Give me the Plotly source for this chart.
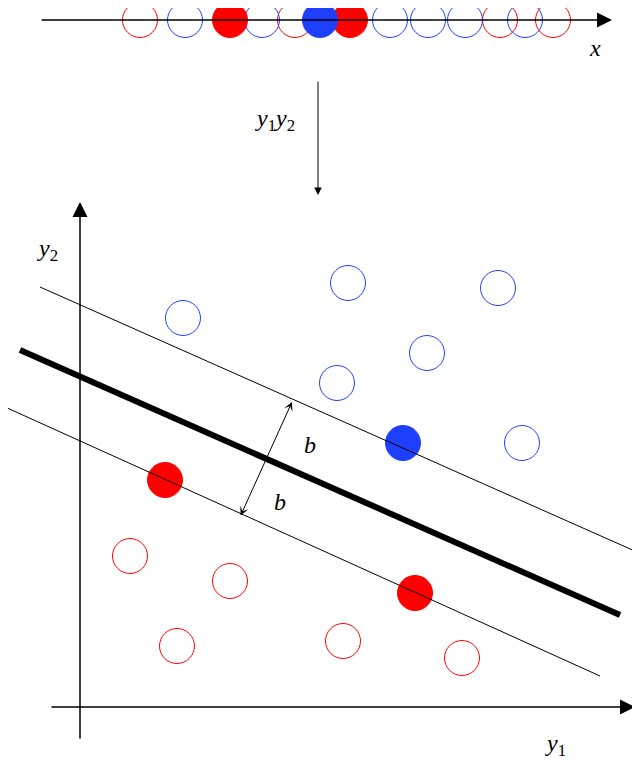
import plotly.graph_objects as go

# top row: 1-D points on x axis (pixel-like coords)
top_x = [140, 185, 262, 295, 390, 428, 465, 500, 525, 553, 230, 320, 350]
top_kind = ["ro", "bo", "bo", "ro", "bo", "bo", "bo", "ro", "bo", "ro", "rf", "bf", "rf"]
top_y = 20

# mapped points in (y1, y2) plane
pts_x = [348, 498, 183, 427, 337, 522, 403, 165, 415, 130, 230, 177, 343, 462]
pts_y = [283, 288, 318, 353, 383, 443, 443, 480, 593, 556, 581, 646, 641, 658]
pts_kind = ["bo", "bo", "bo", "bo", "bo", "bo", "bf", "rf", "rf", "ro", "ro", "ro", "ro", "ro"]

# separating lines: (x0, y0, x1, y1, width)
lines = [(20, 350, 620, 615, 6), (40, 287, 637, 552, 1), (5, 407, 600, 676, 1)]

RED, BLUE = "#ff0000", "#1f3fff"

fig = go.Figure()


def add_points(xs, ys, kinds):
    for k in ["ro", "bo", "rf", "bf"]:
        sel = [i for i, kk in enumerate(kinds) if kk == k]
        c = RED if k[0] == "r" else BLUE
        filled = k[1] == "f"
        fig.add_trace(go.Scatter(
            x=[xs[i] for i in sel], y=[ys[i] for i in sel], mode="markers",
            marker=dict(size=35, color=c if filled else "rgba(0,0,0,0)",
                        line=dict(color=c, width=1)),
            showlegend=False, hoverinfo="skip"))


add_points(top_x, [top_y] * len(top_x), top_kind)
add_points(pts_x, pts_y, pts_kind)

for x0, y0, x1, y1, w in lines:
    fig.add_shape(type="line", x0=x0, y0=y0, x1=x1, y1=y1, line=dict(color="black", width=w))


def arrow(x0, y0, x1, y1, head=2, size=1.2, width=1.5, start=False):
    fig.add_annotation(x=x1, y=y1, ax=x0, ay=y0, xref="x", yref="y", axref="x", ayref="y",
                       text="", showarrow=True, arrowhead=head, arrowsize=size,
                       arrowwidth=width, arrowcolor="black",
                       arrowside="end+start" if start else "end")

arrow(40, top_y, 612, top_y, head=2, size=2)
arrow(80, 740, 80, 202, head=2, size=2)
arrow(50, 707, 635, 707, head=2, size=2)
arrow(318, 80, 318, 195, head=2, size=1.5, width=1)
arrow(240, 517, 292, 402, head=3, size=1.5, width=1, start=True)

font = dict(family="Times New Roman, Liberation Serif, DejaVu Serif, serif", size=24, color="black")
for txt, x, y in [("<i>x</i>", 595, 48), ("<i>y</i><sub>1</sub><i>y</i><sub>2</sub>", 275, 120),
                  ("<i>y</i><sub>2</sub>", 47, 250), ("<i>y</i><sub>1</sub>", 555, 745),
                  ("<i>b</i>", 310, 445), ("<i>b</i>", 280, 502)]:
    fig.add_annotation(x=x, y=y, text=txt, showarrow=False, font=font)

# page body has an 8px margin, so the figure is shrunk and ranges shifted to keep pixel coords
fig.update_xaxes(range=[8, 640], visible=False)
fig.update_yaxes(range=[779, 8], visible=False)
fig.update_layout(width=632, height=771, margin=dict(l=0, r=0, t=0, b=0),
                  plot_bgcolor="white", paper_bgcolor="white")
fig.write_html("out.html")
